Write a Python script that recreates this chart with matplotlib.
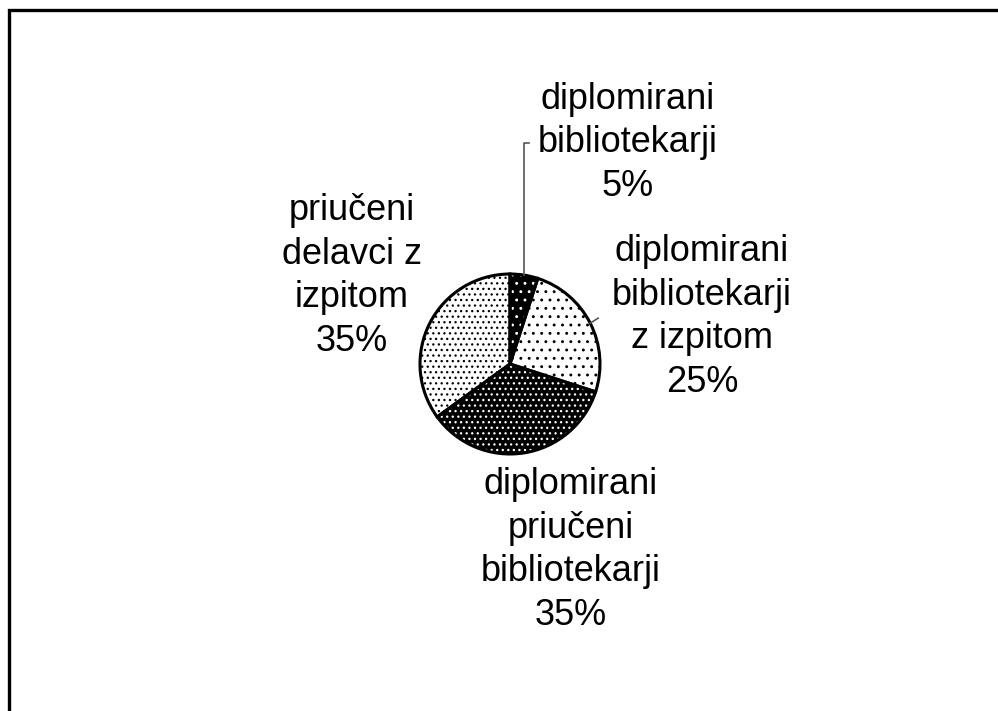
import numpy as np
import matplotlib
matplotlib.use('Agg')
from matplotlib import pyplot as plt

# slices clockwise from 12 o'clock
categories = ['diplomirani bibliotekarji',
              'diplomirani bibliotekarji z izpitom',
              'diplomirani priučeni bibliotekarji',
              'priučeni delavci z izpitom']
shares = [5, 25, 35, 35]
labels = ['diplomirani\nbibliotekarji\n5%',
          'diplomirani\nbibliotekarji\nz izpitom\n25%',
          'diplomirani\npriučeni\nbibliotekarji\n35%',
          'priučeni\ndelavci z\nizpitom\n35%']

faces = ['black', 'white', 'black', 'white']
dots = ['white', 'black', 'white', 'black']
hatches = ['..', '..', '...', '...']

plt.rcParams['font.family'] = ['Liberation Sans', 'DejaVu Sans']
plt.rcParams['hatch.linewidth'] = 0.9

W, H = 998, 711
fig = plt.figure(figsize=(W / 100, H / 100), dpi=100)
ax = fig.add_axes([0, 0, 1, 1])

cx, cy, r = 510, H - 364, 90

# filled slices with dot hatching (hatch takes the edge colour)
wedges, _ = ax.pie(shares, center=(cx, cy), radius=r, startangle=90,
                   counterclock=False, frame=True)
for w, fc, dc, h in zip(wedges, faces, dots, hatches):
    w.set_facecolor(fc)
    w.set_edgecolor(dc)
    w.set_hatch(h)
    w.set_linewidth(0)

# outlines on top
ax.pie(shares, center=(cx, cy), radius=r, startangle=90, counterclock=False,
       frame=True, wedgeprops=dict(fill=False, edgecolor='black', linewidth=2.2))
ax.set_xlim(0, W)
ax.set_ylim(0, H)
ax.set_aspect('equal')
ax.axis('off')

# label texts
pos = [(628, H - 143), (702, H - 317), (571, H - 550), (352, H - 276)]
for txt, (x, y) in zip(labels, pos):
    ax.text(x, y, txt, ha='center', va='center', multialignment='center',
            fontsize=26, linespacing=1.31)

# leader lines
cum = np.cumsum([0] + shares)
mid = [90 - (cum[i] + shares[i] / 2) * 3.6 for i in range(len(shares))]
a0 = np.radians(mid[0])
x0, y0 = cx + r * np.cos(a0), cy + r * np.sin(a0)
ax.plot([x0, x0, x0 + 5], [y0, H - 143, H - 143], color='#555555', lw=1.2)
a1 = np.radians(mid[1])
x1, y1 = cx + r * np.cos(a1), cy + r * np.sin(a1)
ax.plot([x1, x1 + 8], [y1, y1 + 5], color='#555555', lw=1.2)

# frame (only top and left edges inside the picture)
ax.plot([9, 9, W + 10], [-10, H - 10, H - 10], color='black', lw=2.4,
        solid_joinstyle='miter', clip_on=False)

fig.savefig('out.png', dpi=100)
